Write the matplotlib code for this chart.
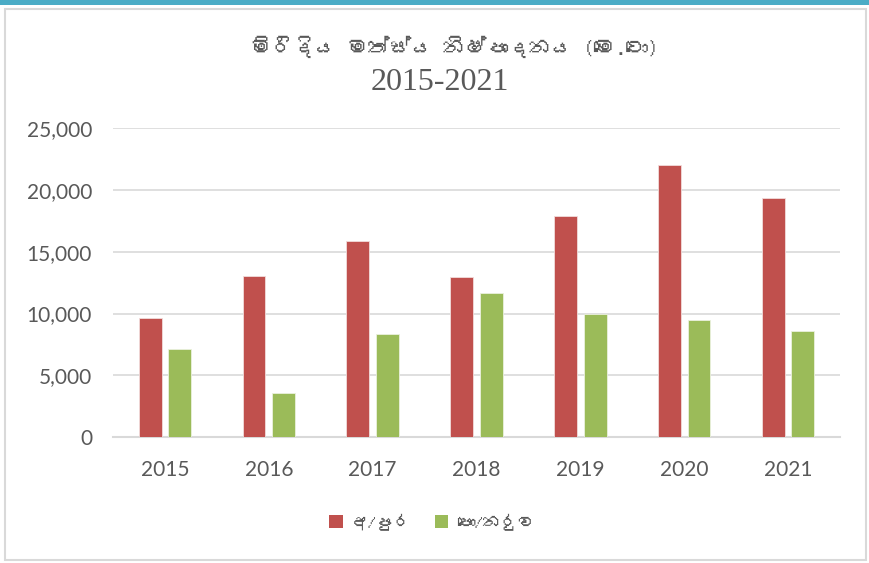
import numpy as np
import matplotlib
matplotlib.use("Agg")
import matplotlib.pyplot as plt
import matplotlib.font_manager as fm
from matplotlib.patches import Rectangle, Patch
from matplotlib.ticker import FuncFormatter
from matplotlib.ft2font import FT2Font

''' Data '''
years = ['2015', '2016', '2017', '2018', '2019', '2020', '2021']
anuradhapura = [9660, 13000, 15830, 12990, 17900, 21990, 19370]
polonnaruwa = [7170, 3540, 8330, 11660, 9980, 9460, 8630]
series_names = ['අ/පුර', 'පො/නරුව']
title_line1 = 'මිරිදිය මත්ස්ය නිෂ්පාදනය (මෙ.ටො)'
title_line2 = '2015-2021'

''' Font with Sinhala glyphs, if one is installed '''
sinhala_family = None
for f in fm.fontManager.ttflist:
  try:
    if 0x0DB8 in FT2Font(f.fname).get_charmap():
      sinhala_family = f.name
      break
  except Exception:
    pass

serif_fams = ['Liberation Serif', 'DejaVu Serif']
sans_fams = ['Lato', 'DejaVu Sans']
if sinhala_family:
  serif_fams = [sinhala_family] + serif_fams
  sans_fams = [sinhala_family] + sans_fams

c_red = '#C0504D'
c_green = '#9BBB59'
c_text = '#595959'
c_grid = '#D9D9D9'

fig = plt.figure(figsize=(8.69, 5.63), dpi=100)

# chart frame
fig.patches.append(Rectangle((5/869, 3/563), 861/869, 551/563, transform=fig.transFigure,
                             facecolor='white', edgecolor=c_grid, linewidth=1.5, zorder=-10))
fig.patches.append(Rectangle((0, 1 - 5/563), 1, 5/563, transform=fig.transFigure,
                             facecolor='#4BACC6', edgecolor='none', zorder=-10))

ax1 = fig.add_axes([0.130, 0.2233, 0.8366, 0.5494])
ax1.set_facecolor('none')

x = np.arange(len(years))
w = 0.22
off = 0.142
ax1.bar(x - off, anuradhapura, w, color=c_red, edgecolor='#F2DCDB', linewidth=0.6, zorder=3)
ax1.bar(x + off, polonnaruwa, w, color=c_green, edgecolor='#EBF1DE', linewidth=0.6, zorder=3)

ax1.set_xlim(-0.5, len(years) - 0.5)
ax1.set_ylim(0, 25000)
ax1.set_yticks(np.arange(0, 25001, 5000))
ax1.yaxis.set_major_formatter(FuncFormatter(lambda v, p: '{:,.0f}'.format(v)))
ax1.set_xticks(x, years)
ax1.grid(True, axis='y', color=c_grid, linewidth=1.2)
ax1.set_axisbelow(True)
for s in ['top', 'right', 'left']:
  ax1.spines[s].set_visible(False)
ax1.spines['bottom'].set_color(c_grid)
ax1.spines['bottom'].set_linewidth(1.5)
ax1.tick_params(axis='both', length=0, labelcolor=c_text, labelsize=15)
ax1.tick_params(axis='y', pad=15)
ax1.tick_params(axis='x', pad=16)
for lab in ax1.get_xticklabels() + ax1.get_yticklabels():
  lab.set_family(['Lato', 'DejaVu Sans'])

fig.text(454/869, 1 - 47/563, title_line1, ha='center', va='center',
         fontsize=15.5, color=c_text, family=serif_fams)
fig.text(440/869, 1 - 82/563, title_line2, ha='center', va='center',
         fontsize=23, color=c_text, family=['Liberation Serif', 'DejaVu Serif'])

handles = [Patch(facecolor=c_red, edgecolor='none'), Patch(facecolor=c_green, edgecolor='none')]
fig.legend(handles, series_names, loc='center', bbox_to_anchor=(432/869, 1 - 522/563),
           ncol=2, frameon=False, handlelength=0.8, handleheight=0.8, handletextpad=0.5,
           columnspacing=1.3, prop=fm.FontProperties(family=sans_fams, size=12.5),
           labelcolor=c_text)

fig.savefig('out.png', dpi=100)
